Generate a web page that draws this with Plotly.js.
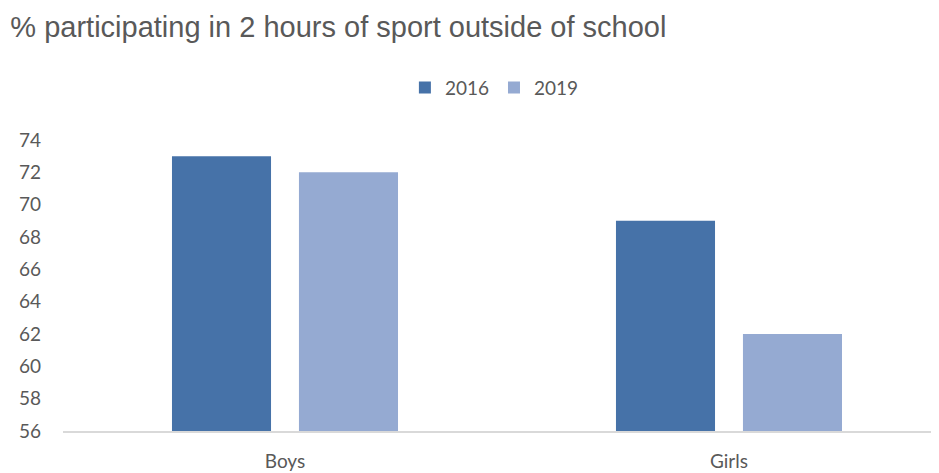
<!DOCTYPE html>
<html>
<head>
<meta charset="utf-8">
<script src="https://cdn.plot.ly/plotly-3.0.1.min.js"></script>
<style>html,body{margin:0;padding:0;background:#fff;}#chart{width:939px;height:473px;}</style>
</head>
<body>
<div id="chart"></div>
<script>
const categories = ["Boys", "Girls"];
const series2016 = [73, 69];
const series2019 = [72, 62];
const yTicks = [56, 58, 60, 62, 64, 66, 68, 70, 72, 74];

const traces = [
  {type: "bar", name: "2016", x: categories, y: series2016, marker: {color: "#4672A8"}, hoverinfo: "x+y"},
  {type: "bar", name: "2019", x: categories, y: series2019, marker: {color: "#95AAD2"}, hoverinfo: "x+y"}
];

const layout = {
  width: 939, height: 473,
  margin: {l: 63, r: 8, t: 140, b: 42},
  paper_bgcolor: "#ffffff", plot_bgcolor: "#ffffff",
  title: {text: "% participating in 2 hours of sport outside of school", x: 0.011, xanchor: "left", y: 0.943, yanchor: "middle",
    font: {family: "Liberation Sans, Arial, sans-serif", size: 29, color: "#595959"}},
  barmode: "group", bargap: 0.428, bargroupgap: 0.22,
  showlegend: true,
  legend: {orientation: "h", x: 0.497, xanchor: "center", y: 1.18, yanchor: "middle",
    font: {family: "Lato, Open Sans, sans-serif", size: 19, color: "#595959"}, itemwidth: 30, tracegroupgap: 0},
  xaxis: {type: "category", range: [-0.5, 1.455], showgrid: false, showline: true, linecolor: "#d9d9d9", linewidth: 1.5,
    ticks: "", ticklabelstandoff: 13, tickfont: {family: "Lato, Open Sans, sans-serif", size: 19, color: "#595959"}, fixedrange: true},
  yaxis: {range: [56, 74], tickvals: yTicks, ticktext: yTicks.map(String), showgrid: false, zeroline: false, showline: false,
    ticks: "", ticklabelstandoff: 21, tickfont: {family: "Lato, Open Sans, sans-serif", size: 19, color: "#595959"}, fixedrange: true}
};

Plotly.newPlot("chart", traces, layout, {displayModeBar: false, staticPlot: true});
</script>
</body>
</html>
